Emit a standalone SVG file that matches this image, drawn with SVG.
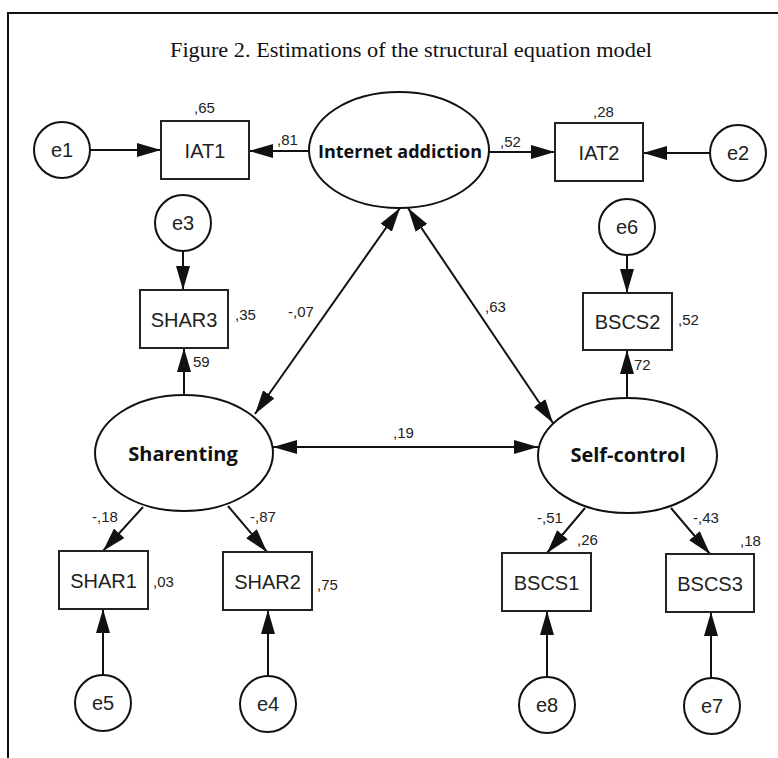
<svg xmlns="http://www.w3.org/2000/svg" width="778" height="758" viewBox="0 0 778 758">
<defs>
<marker id="ah" viewBox="0 0 24 14" refX="24" refY="7" markerWidth="24" markerHeight="14" markerUnits="userSpaceOnUse" orient="auto-start-reverse">
<path d="M0,0 L24,7 L0,14 z" fill="#111"/>
</marker>
<style>
.frame{stroke:#111;stroke-width:2;fill:none}
.box{fill:#fff;stroke:#222;stroke-width:2}
.lat{fill:#fff;stroke:#111;stroke-width:2}
.err{fill:#fff;stroke:#111;stroke-width:2}
.c{stroke:#111;stroke-width:2;fill:none;marker-end:url(#ah)}
.bi{stroke:#111;stroke-width:2;fill:none;marker-start:url(#ah);marker-end:url(#ah)}
.t{font-family:"Liberation Sans",Arial,sans-serif;font-size:20px;fill:#222;text-anchor:middle}
.lt{font-family:"Open Sans","DejaVu Sans",sans-serif;font-weight:bold;font-size:20px;fill:#111;text-anchor:middle}
.n{font-family:"Liberation Sans",Arial,sans-serif;font-size:15px;fill:#222}
.title{font-family:"Liberation Serif","Times New Roman",serif;font-size:22px;fill:#111;text-anchor:middle}
</style>
</defs>
<rect width="778" height="758" fill="#fff"/>
<path class="frame" d="M8,758 L8,13 L778,13"/>
<text class="title" x="411" y="57" textLength="482" lengthAdjust="spacingAndGlyphs">Figure 2. Estimations of the structural equation model</text>

<g id="connectors">
<path class="c" d="M90,150 L161,150"/>
<path class="c" d="M309,151 L249,151"/>
<path class="c" d="M489,152 L555,152"/>
<path class="c" d="M710,153 L643,153"/>
<path class="c" d="M183,251 L183,290"/>
<path class="c" d="M184,395 L184,348"/>
<path class="bi" d="M400,208 L255,414"/>
<path class="bi" d="M408,208 L553,423"/>
<path class="bi" d="M273,447 L538,447"/>
<path class="c" d="M627,255 L627,293"/>
<path class="c" d="M627,398 L627,350"/>
<path class="c" d="M143,507 L103,551"/>
<path class="c" d="M228,506 L267,552"/>
<path class="c" d="M103,675 L103,609"/>
<path class="c" d="M268,676 L268,610"/>
<path class="c" d="M585,508 L547,553"/>
<path class="c" d="M671,508 L710,554"/>
<path class="c" d="M547,677 L547,611"/>
<path class="c" d="M711,678 L711,612"/>
</g>

<g id="labels">
<text class="n" x="194" y="113">,65</text>
<text class="n" x="277" y="145">,81</text>
<text class="n" x="500" y="147">,52</text>
<text class="n" x="593" y="117">,28</text>
<text class="n" x="235" y="320">,35</text>
<text class="n" x="193" y="367">59</text>
<text class="n" x="288" y="317">-,07</text>
<text class="n" x="485" y="312">,63</text>
<text class="n" x="393" y="438">,19</text>
<text class="n" x="678" y="325">,52</text>
<text class="n" x="634" y="370">72</text>
<text class="n" x="92" y="522">-,18</text>
<text class="n" x="250" y="522">-,87</text>
<text class="n" x="153" y="587">,03</text>
<text class="n" x="317" y="590">,75</text>
<text class="n" x="537" y="523">-,51</text>
<text class="n" x="577" y="545">,26</text>
<text class="n" x="693" y="523">-,43</text>
<text class="n" x="740" y="546">,18</text>
</g>

<g id="e1"><circle class="err" cx="62" cy="150" r="28"/><text class="t" x="62" y="157">e1</text></g>
<g id="e2"><circle class="err" cx="738" cy="153" r="28"/><text class="t" x="738" y="160">e2</text></g>
<g id="e3"><circle class="err" cx="183" cy="223" r="28"/><text class="t" x="183" y="230">e3</text></g>
<g id="e6"><circle class="err" cx="627" cy="227" r="28"/><text class="t" x="627" y="234">e6</text></g>
<g id="e5"><circle class="err" cx="103" cy="703" r="28"/><text class="t" x="103" y="710">e5</text></g>
<g id="e4"><circle class="err" cx="268" cy="704" r="28"/><text class="t" x="268" y="711">e4</text></g>
<g id="e8"><circle class="err" cx="547" cy="705" r="28"/><text class="t" x="547" y="712">e8</text></g>
<g id="e7"><circle class="err" cx="712" cy="706" r="28"/><text class="t" x="712" y="713">e7</text></g>

<g id="IAT1"><rect class="box" x="161" y="121" width="88" height="58"/><text class="t" x="205" y="158">IAT1</text></g>
<g id="IAT2"><rect class="box" x="555" y="123" width="88" height="58"/><text class="t" x="599" y="160">IAT2</text></g>
<g id="SHAR3"><rect class="box" x="140" y="290" width="88" height="58"/><text class="t" x="184" y="327">SHAR3</text></g>
<g id="BSCS2"><rect class="box" x="583" y="293" width="89" height="57"/><text class="t" x="627.5" y="329">BSCS2</text></g>
<g id="SHAR1"><rect class="box" x="59" y="551" width="89" height="58"/><text class="t" x="103.5" y="588">SHAR1</text></g>
<g id="SHAR2"><rect class="box" x="223" y="552" width="89" height="58"/><text class="t" x="267.5" y="589">SHAR2</text></g>
<g id="BSCS1"><rect class="box" x="502" y="553" width="89" height="58"/><text class="t" x="546.5" y="590">BSCS1</text></g>
<g id="BSCS3"><rect class="box" x="666" y="554" width="88" height="58"/><text class="t" x="710" y="591">BSCS3</text></g>

<g id="InternetAddiction"><ellipse class="lat" cx="399" cy="150" rx="90" ry="58"/><text class="lt" x="400" y="158" style="font-size:18px">Internet addiction</text></g>
<g id="Sharenting"><ellipse class="lat" cx="184" cy="453" rx="89" ry="58"/><text class="lt" x="183" y="461">Sharenting</text></g>
<g id="SelfControl"><ellipse class="lat" cx="627.5" cy="455.5" rx="89.5" ry="57.5"/><text class="lt" x="628" y="462">Self-control</text></g>
</svg>
